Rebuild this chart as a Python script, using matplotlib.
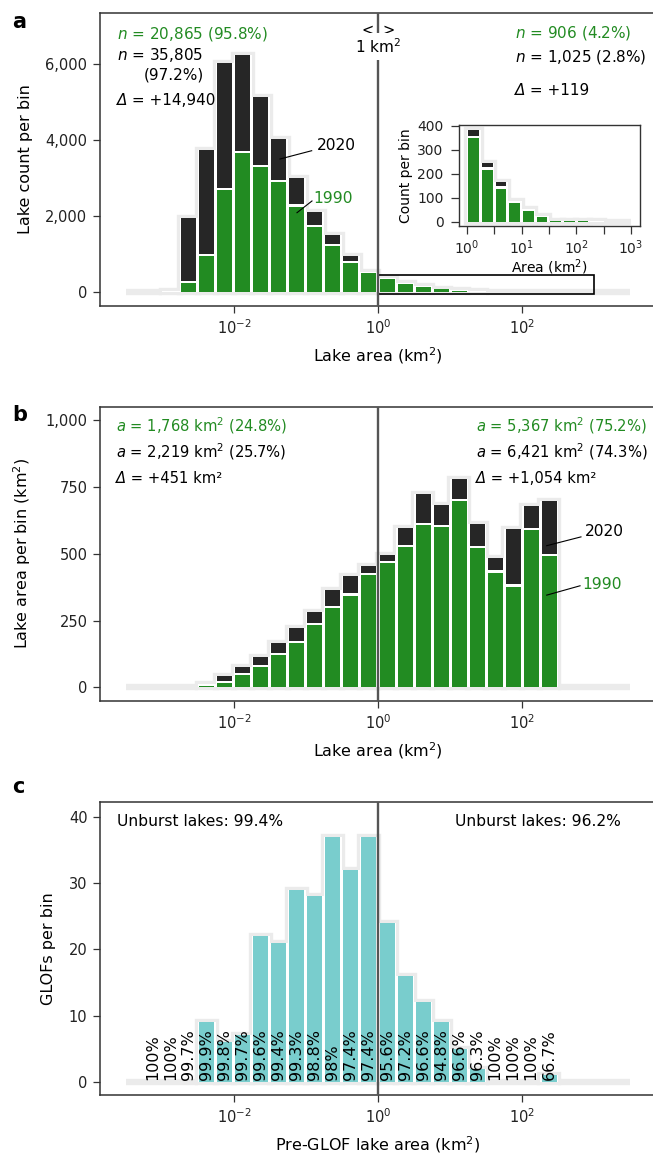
import numpy as np
import matplotlib
matplotlib.use('Agg')
import matplotlib.pyplot as plt
from matplotlib.patches import Rectangle
from matplotlib.ticker import FuncFormatter

plt.rcParams['font.family'] = 'DejaVu Sans'
plt.rcParams['mathtext.fontset'] = 'dejavusans'

GREEN = '#228B22'
DARK = '#262626'
TEAL = '#79CDCD'
HALO = '#EBEBEB'
AXC = '#333333'

# log10 of bin left edges, bins are a quarter of a decade wide
bin_left = np.arange(-3.5, 3.5, 0.25)
bin_w = 0.25

# panel a: lake count per bin
count_2020 = [0, 5, 35, 1940, 3740, 6020, 6230, 5140, 4030, 3000, 2100, 1510, 950, 540,
              381, 246, 168, 88, 55, 25, 5, 4, 3, 2, 0, 0, 0, 0]
count_1990 = [0, 1, 10, 250, 950, 2690, 3650, 3300, 2900, 2250, 1720, 1210, 770, 520,
              350, 218, 139, 78, 47, 20, 4, 3, 2, 1, 0, 0, 0, 0]

# panel b: lake area per bin (km2)
area_2020 = [0, 0.2, 1, 3, 14, 41, 77, 115, 165, 223, 281, 363, 416, 454,
             496, 596, 724, 684, 780, 612, 485, 592, 680, 698, 0, 0, 0, 0]
area_1990 = [0, 0.05, 0.3, 1, 4, 17, 45, 75, 120, 167, 232, 296, 343, 419,
             464, 526, 606, 601, 698, 520, 429, 377, 588, 492, 0, 0, 0, 0]

# panel c: GLOFs per bin and share of unburst lakes
glofs = [0, 0, 0, 0, 9, 6, 7, 22, 21, 29, 28, 37, 32, 37,
         24, 16, 12, 9, 5, 2, 0, 0, 0, 1, 0, 0, 0, 0]
unburst = ['', '100%', '100%', '99.7%', '99.9%', '99.8%', '99.7%', '99.6%', '99.4%',
           '99.3%', '98.8%', '98%', '97.4%', '97.4%', '95.6%', '97.2%', '96.6%',
           '94.8%', '96.6%', '96.3%', '100%', '100%', '100%', '66.7%', '', '', '', '']

W, H = 653, 1155
fig = plt.figure(figsize=(W / 100, H / 100), dpi=100)


def px_axes(x0, top, w, h):
    return fig.add_axes([x0 / W, 1 - (top + h) / H, w / W, h / H])


def draw_bars(ax, top_s, low_s, top_c, low_c, px_dec, px_unit, i0=0, i1=None):
    # grey halo + white backing per bin, coloured bars slightly narrower
    lo = bin_left[i0:i1]
    left = 10 ** lo
    width = 10 ** (lo + bin_w) - left
    top = np.asarray(top_s, dtype=float)[i0:i1]
    ax.bar(left, top, width, align='edge', color=HALO, edgecolor=HALO,
           linewidth=4.6, zorder=1)
    ax.bar(left, top, width, align='edge', color='white', linewidth=0, zorder=1.5)
    s = 1.5 / px_dec
    l2 = 10 ** (lo + s)
    w2 = 10 ** (lo + bin_w - s) - l2
    gap = 2.2 / px_unit
    if low_s is not None:
        low = np.asarray(low_s, dtype=float)[i0:i1]
        m = low > 0
        ax.bar(l2[m], low[m], w2[m], align='edge', color=low_c, linewidth=0, zorder=2)
        base = np.where(low > 0, low + gap, 0)
    else:
        base = np.zeros_like(top)
    m = top > base
    ax.bar(l2[m], (top - base)[m], w2[m], bottom=base[m], align='edge',
           color=top_c, linewidth=0, zorder=2)


def style(ax, ylim, yticks):
    ax.set_xscale('log')
    ax.set_xlim(10 ** -3.861, 10 ** 3.861)
    ax.set_ylim(*ylim)
    ax.set_yticks(yticks)
    ax.set_xticks([1e-2, 1, 1e2])
    ax.set_xticklabels(['$10^{-2}$', '$10^{0}$', '$10^{2}$'])
    ax.xaxis.set_minor_locator(matplotlib.ticker.NullLocator())
    ax.yaxis.set_major_formatter(FuncFormatter(lambda v, p: f'{int(v):,}'))
    for s in ax.spines.values():
        s.set_color(AXC)
        s.set_linewidth(1.1)
    ax.tick_params(direction='out', length=5, width=0.9, color=AXC,
                   labelsize=10.5, pad=4, labelcolor='#222222')
    ax.axvline(1, color='#555555', lw=1.7, zorder=6)


def delta_text(ax, x, y, rest, size):
    t = ax.text(x, y, 'Δ', style='italic', fontsize=size, transform=ax.transAxes,
                va='center', ha='left')
    ax.annotate(rest, xy=(1, 0), xycoords=t, va='bottom', ha='left', fontsize=size)


# ---------------- panel a
ax1 = px_axes(100, 12.7, 556, 293.3)
draw_bars(ax1, count_2020, count_1990, DARK, GREEN, 72, 0.03805)
style(ax1, (-360, 7348), [0, 2000, 4000, 6000])
ax1.set_ylabel('Lake count per bin', fontsize=11.5, labelpad=9)
ax1.set_xlabel('Lake area (km$^2$)', fontsize=11.5, labelpad=6)
ax1.add_patch(Rectangle((1, -40), 999, 490, fill=False, ec='black', lw=1.2, zorder=4))

tkw = dict(transform=ax1.transAxes, fontsize=11, va='center', ha='left')
ax1.text(0.030, 0.927, '$n$ = 20,865 (95.8%)', color=GREEN, **tkw)
ax1.text(0.030, 0.856, '$n$ = 35,805', color='black', **tkw)
ax1.text(0.079, 0.788, '(97.2%)', color='black', **tkw)
delta_text(ax1, 0.030, 0.700, ' = +14,940', 11)
ax1.text(0.746, 0.930, '$n$ = 906 (4.2%)', color=GREEN, **tkw)
ax1.text(0.746, 0.848, '$n$ = 1,025 (2.8%)', color='black', **tkw)
delta_text(ax1, 0.746, 0.734, ' = +119', 11)
ax1.text(0.482, 0.939, '<', transform=ax1.transAxes, fontsize=10.5, ha='center', va='center')
ax1.text(0.519, 0.939, '>', transform=ax1.transAxes, fontsize=10.5, ha='center', va='center')
ax1.text(0.5, 0.885, '1 km$^2$', transform=ax1.transAxes, fontsize=11, ha='center',
         va='center', zorder=7,
         bbox=dict(boxstyle='square,pad=0.25', fc='white', ec='none'))

ax1.plot([10 ** -1.361, 10 ** -0.921], [3503, 3721], color='black', lw=0.8, zorder=5)
ax1.text(10 ** -0.847, 3871, '2020', fontsize=11.2, va='center', ha='left')
ax1.plot([10 ** -1.125, 10 ** -0.917], [2092, 2400], color='black', lw=0.8, zorder=5)
ax1.text(10 ** -0.903, 2452, '1990', fontsize=11.2, va='center', ha='left', color=GREEN)

# inset
axi = px_axes(458.7, 124.7, 180.9, 101.3)
draw_bars(axi, count_2020, count_1990, DARK, GREEN, 54.6, 0.24, 14, 26)
axi.set_xscale('log')
axi.set_xlim(10 ** -0.15, 10 ** 3.16)
axi.set_ylim(-17, 405)
axi.set_yticks([0, 100, 200, 300, 400])
axi.set_xticks([1, 10, 100, 1000])
axi.set_xticklabels(['$10^{0}$', '$10^{1}$', '$10^{2}$', '$10^{3}$'])
axi.set_xticks([10 ** 0.5, 10 ** 1.5, 10 ** 2.5], minor=True)
axi.set_xticklabels([], minor=True)
for s in axi.spines.values():
    s.set_color(AXC)
    s.set_linewidth(1.0)
axi.tick_params(which='both', direction='out', length=6, width=0.9, color=AXC,
                labelsize=10, pad=5, labelcolor='#222222')
axi.tick_params(axis='x', which='both', pad=3)
axi.set_ylabel('Count per bin', fontsize=10, labelpad=3)
axi.set_xlabel('Area (km$^2$)', fontsize=10, labelpad=0)

# ---------------- panel b
ax2 = px_axes(100, 407, 556, 293.7)
draw_bars(ax2, area_2020, area_1990, DARK, GREEN, 72, 0.2673)
style(ax2, (-50, 1049), [0, 250, 500, 750, 1000])
ax2.set_ylabel('Lake area per bin (km$^2$)', fontsize=11.5, labelpad=9)
ax2.set_xlabel('Lake area (km$^2$)', fontsize=11.5, labelpad=6)

tkw = dict(transform=ax2.transAxes, fontsize=10.6, va='center', ha='left')
ax2.text(0.029, 0.936, '$a$ = 1,768 km$^2$ (24.8%)', color=GREEN, **tkw)
ax2.text(0.029, 0.848, '$a$ = 2,219 km$^2$ (25.7%)', color='black', **tkw)
delta_text(ax2, 0.029, 0.758, ' = +451 km²', 10.6)
ax2.text(0.676, 0.936, '$a$ = 5,367 km$^2$ (75.2%)', color=GREEN, **tkw)
ax2.text(0.676, 0.848, '$a$ = 6,421 km$^2$ (74.3%)', color='black', **tkw)
delta_text(ax2, 0.676, 0.758, ' = +1,054 km²', 10.6)

ax2.plot([10 ** 2.343, 10 ** 2.819], [530, 563], color='black', lw=0.8, zorder=5)
ax2.text(10 ** 2.875, 582, '2020', fontsize=11.2, va='center', ha='left')
ax2.plot([10 ** 2.343, 10 ** 2.806], [345, 380], color='black', lw=0.8, zorder=5)
ax2.text(10 ** 2.833, 383, '1990', fontsize=11.2, va='center', ha='left', color=GREEN)

# ---------------- panel c
ax3 = px_axes(100, 801.7, 556, 293.3)
draw_bars(ax3, glofs, None, TEAL, None, 72, 6.62)
style(ax3, (-2, 42.3), [0, 10, 20, 30, 40])
ax3.set_ylabel('GLOFs per bin', fontsize=11.5, labelpad=9)
ax3.set_xlabel('Pre-GLOF lake area (km$^2$)', fontsize=11.5, labelpad=6)
centers = 10 ** (bin_left + bin_w / 2)
for xc, lab in zip(centers, unburst):
    if lab:
        ax3.text(xc, 0.25, lab, rotation=90, ha='center', va='bottom',
                 fontsize=11.5, zorder=5)
ax3.text(0.031, 0.932, 'Unburst lakes: 99.4%', transform=ax3.transAxes,
         fontsize=11.2, va='center', ha='left')
ax3.text(0.638, 0.932, 'Unburst lakes: 96.2%', transform=ax3.transAxes,
         fontsize=11.2, va='center', ha='left')

# panel letters
for lab, y in [('a', 21.7), ('b', 415), ('c', 787)]:
    fig.text(12 / W, 1 - y / H, lab, fontsize=15, fontweight='bold',
             ha='left', va='center')

fig.savefig('out.png', dpi=100)
